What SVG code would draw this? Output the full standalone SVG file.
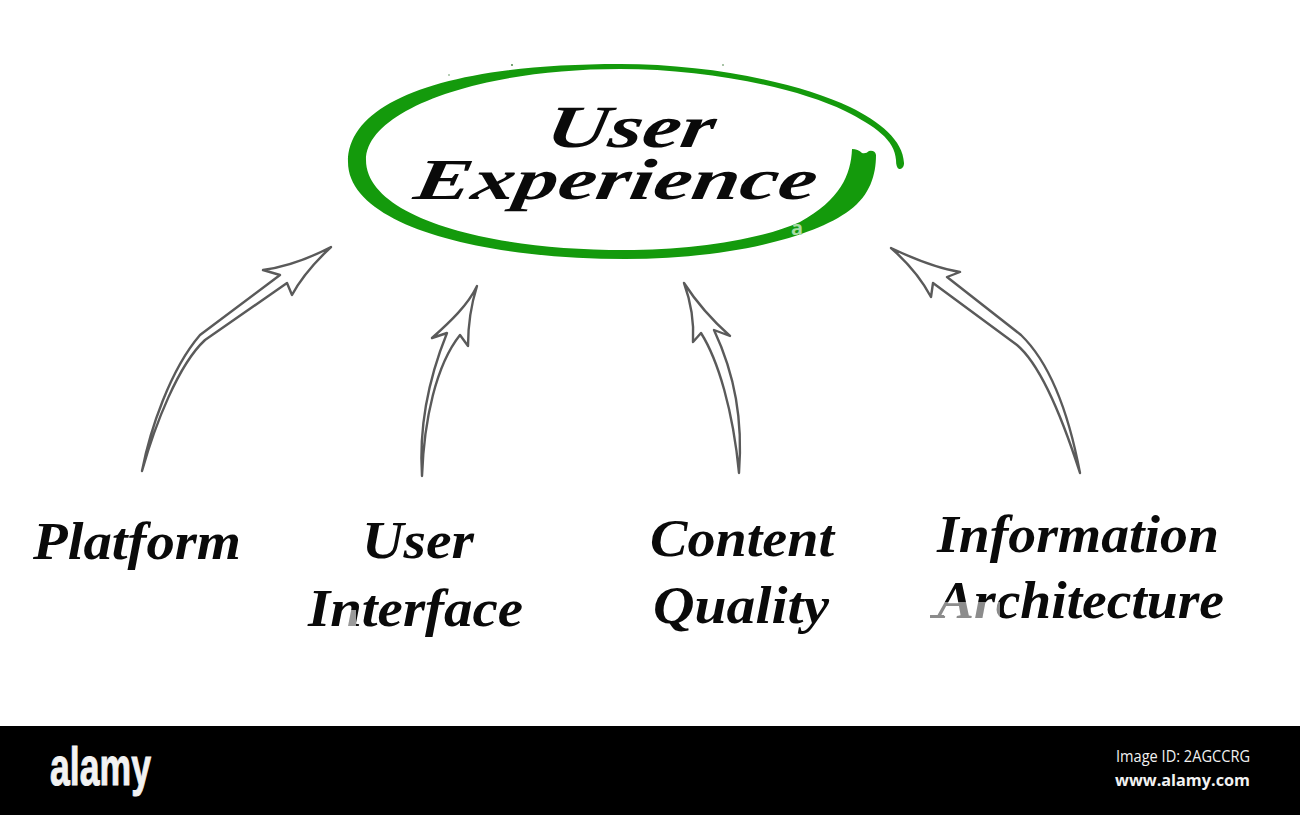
<svg xmlns="http://www.w3.org/2000/svg" width="1300" height="815" viewBox="0 0 1300 815">
<defs>
<pattern id="fade" patternUnits="userSpaceOnUse" x="900" y="560" width="400" height="80">
<rect width="400" height="80" fill="#0a0a0a"/>
<path d="M25 42H100V62H25Z" fill="#8c8c8c"/>
</pattern>
<pattern id="fade2" patternUnits="userSpaceOnUse" x="300" y="570" width="240" height="80">
<rect width="240" height="80" fill="#0a0a0a"/>
<path d="M50 40H56V58H45Z" fill="#9a9a9a"/>
</pattern>
</defs>
<style>
.t{font-family:"Liberation Serif","Times New Roman",serif;font-style:italic;font-weight:bold;fill:#0a0a0a}
.a{fill:#fff;stroke:#5a5a5a;stroke-width:2.4;stroke-linejoin:round}
.w{font-family:"Open Sans","Noto Sans",sans-serif;fill:#f2f2f2}
.s{fill:#3c7a38}
</style>
<rect width="1300" height="815" fill="#fff"/>
<g id="user-experience">
<circle class="s" cx="449" cy="75" r=".7"/><circle class="s" cx="512" cy="65" r=".9"/><circle class="s" cx="723" cy="65" r=".8"/>
<path fill="#149a0c" d="M904 163C903 140 880 122 850 107C800 83 710 64 620 64C450 64 348 100 348 162C348 225 480 259 625 259C720 259 810 240 850 210C870 195 876 175 876 155Q875 150 869 151Q866 154 862 153Q858 149 852 149C851 175 840 200 800 222C760 240 690 250 625 250C480 250 366 215 366 160C366 110 480 69 620 69C705 69 795 87 845 111C875 126 895 140 896 160C896 165 897 168 899 169C902 169 904 167 904 163Z"/>
<text x="797" y="235" font-family="'Open Sans',sans-serif" font-weight="bold" font-size="20" fill="#a9dba6" text-anchor="middle">a</text>
<text class="t" x="0" y="0" font-size="60" textLength="168" lengthAdjust="spacingAndGlyphs" transform="translate(544 147) skewX(-10)">User</text>
<text class="t" x="0" y="0" font-size="58" textLength="402" lengthAdjust="spacingAndGlyphs" transform="translate(412 199) skewX(-10)">Experience</text>
</g>
<g id="connectors">
<path class="a" d="M142 471C150 430 170 370 200 335L280 275L263 270C285 267 310 258 331 247C315 262 300 280 292 295L287 283L205 340C178 365 155 425 142 471Z"/>
<path class="a" d="M422 476C419 430 426 385 447 333L432 338C450 322 468 305 477 286C471 305 468 325 468 346L460 335C436 365 424 420 422 476Z"/>
<path class="a" d="M739 473C733 410 718 360 701 333L693 342C694 325 692 305 684 283C695 300 712 320 730 336L714 330C735 375 743 420 739 473Z"/>
<path class="a" d="M1080 473C1070 420 1052 365 1021 335L947 277L960 272C935 268 912 258 891 248C907 262 922 280 931 297L933 283L1017 345C1042 366 1063 420 1080 473Z"/>
</g>
<g id="platform"><text class="t" x="33" y="559" font-size="52" textLength="208" lengthAdjust="spacingAndGlyphs">Platform</text></g>
<g id="user-interface">
<text class="t" x="362" y="558" font-size="52" textLength="112" lengthAdjust="spacingAndGlyphs">User</text>
<text class="t" x="308" y="626" font-size="52" textLength="215" lengthAdjust="spacingAndGlyphs" style="fill:url(#fade2)">Interface</text>
</g>
<g id="content-quality">
<text class="t" x="650" y="556" font-size="52" textLength="184" lengthAdjust="spacingAndGlyphs">Content</text>
<text class="t" x="653" y="623" font-size="52" textLength="176" lengthAdjust="spacingAndGlyphs">Quality</text>
</g>
<g id="information-architecture">
<text class="t" x="937" y="552" font-size="52" textLength="282" lengthAdjust="spacingAndGlyphs">Information</text>
<rect x="930" y="615" width="14" height="3" fill="#8c8c8c"/>
<text class="t" x="937" y="618" font-size="52" textLength="287" lengthAdjust="spacingAndGlyphs" style="fill:url(#fade)">Architecture</text>
</g>
<g id="footer">
<rect y="726" width="1300" height="89" fill="#000"/>
<text class="w" x="50" y="785" font-size="54" font-weight="bold" stroke="#f2f2f2" stroke-width="1" textLength="101" lengthAdjust="spacingAndGlyphs" style="font-family:'Liberation Sans',Arial,sans-serif">alamy</text>
<text class="w" x="1116" y="762" font-size="15.5" textLength="134" lengthAdjust="spacingAndGlyphs">Image ID: 2AGCCRG</text>
<text class="w" x="1115" y="786" font-size="16" font-weight="bold" textLength="135" lengthAdjust="spacingAndGlyphs">www.alamy.com</text>
</g>
</svg>
